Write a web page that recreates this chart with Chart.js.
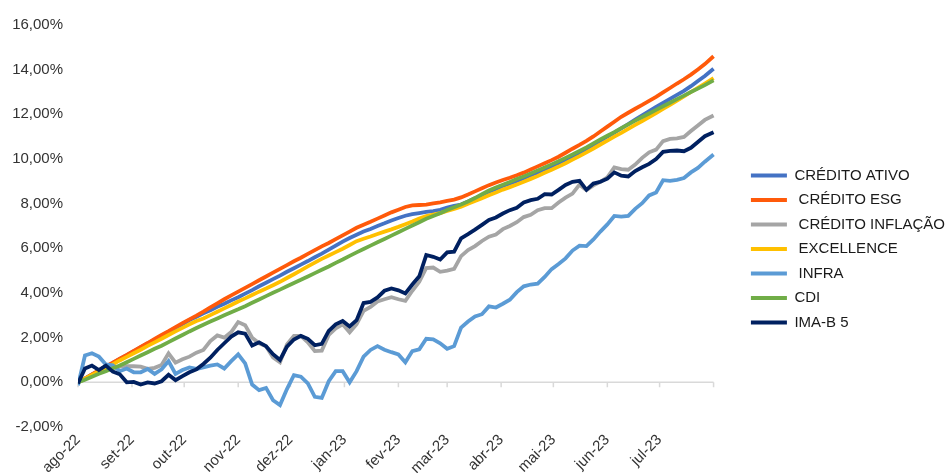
<!DOCTYPE html>
<html>
<head>
<meta charset="utf-8">
<script src="https://cdn.jsdelivr.net/npm/chart.js@4.4.1/dist/chart.umd.min.js"></script>
<style>
html,body{margin:0;padding:0;background:#ffffff;overflow:hidden;}
#wrap{width:951px;height:473px;}
</style>
</head>
<body>
<div id="wrap"><canvas id="c" width="951" height="473"></canvas></div>
<script>
// ---- DATA (cumulative return, %) ----
// x = calendar days since 01-Aug-2022
const days = [0,4,8,12,16,20,24,28,32,36,40,44,48,52,56,60,64,68,72,76,80,84,88,92,96,100,104,108,112,116,120,124,128,132,136,140,144,148,152,156,160,164,168,172,176,180,184,188,192,196,200,204,208,212,216,220,224,228,232,236,240,244,248,252,256,260,264,268,272,276,280,284,288,292,296,300,304,308,312,316,320,324,328,332,336,340,344,348,352,356,360,365];

const monthDays = [0,31,61,92,122,153,184,212,243,273,304,334];
const monthLabels = ['ago-22','set-22','out-22','nov-22','dez-22','jan-23','fev-23','mar-23','abr-23','mai-23','jun-23','jul-23'];
const endDay = 365;
const yTickValues = [-2,0,2,4,6,8,10,12,14,16];

const seriesNames = ['CRÉDITO ATIVO',' CRÉDITO ESG',' CRÉDITO INFLAÇÃO',' EXCELLENCE',' INFRA','CDI','IMA-B 5'];

const creditoAtivo = [0,0.17,0.35,0.52,0.70,0.87,1.05,1.22,1.39,1.57,
1.74,1.91,2.09,2.26,2.44,2.61,2.79,2.94,3.09,3.23,
3.38,3.52,3.67,3.81,3.97,4.13,4.30,4.46,4.62,4.78,
4.95,5.11,5.27,5.43,5.60,5.76,5.94,6.12,6.30,6.46,
6.61,6.75,6.87,7.00,7.12,7.25,7.36,7.46,7.53,7.58,
7.63,7.67,7.72,7.82,7.90,7.96,8.10,8.24,8.39,8.54,
8.66,8.79,8.90,9.02,9.14,9.27,9.40,9.54,9.68,9.82,
9.97,10.12,10.28,10.45,10.63,10.82,11.00,11.18,11.37,11.56,
11.76,11.95,12.14,12.33,12.51,12.69,12.87,13.05,13.26,13.49,
13.72,14.04];

const creditoESG = [0,0.18,0.35,0.53,0.71,0.88,1.06,1.23,1.41,1.59,
1.76,1.94,2.12,2.29,2.47,2.65,2.82,2.99,3.17,3.36,
3.54,3.72,3.89,4.06,4.23,4.40,4.57,4.74,4.91,5.08,
5.25,5.42,5.58,5.75,5.92,6.09,6.24,6.41,6.58,6.75,
6.92,7.06,7.19,7.33,7.47,7.61,7.73,7.85,7.92,7.94,
7.96,8.01,8.06,8.12,8.18,8.28,8.41,8.55,8.69,8.83,
8.95,9.06,9.16,9.27,9.39,9.53,9.67,9.81,9.95,10.10,
10.28,10.46,10.63,10.81,11.01,11.23,11.45,11.67,11.89,12.07,
12.25,12.42,12.60,12.78,12.98,13.18,13.38,13.57,13.78,14.01,
14.25,14.60];

const creditoInflacao = [0,0.15,0.30,0.42,0.55,0.65,0.70,0.72,0.72,0.70,
0.60,0.65,0.78,1.30,0.88,1.03,1.15,1.33,1.45,1.85,
2.10,2.00,2.25,2.70,2.56,2.00,1.75,1.62,1.12,0.90,
1.70,2.08,2.08,1.79,1.40,1.42,2.12,2.42,2.60,2.24,
2.60,3.20,3.38,3.62,3.72,3.81,3.72,3.65,4.10,4.50,
5.12,5.14,4.95,5.00,5.08,5.65,5.92,6.10,6.33,6.52,
6.62,6.86,7.00,7.17,7.40,7.50,7.71,7.80,7.80,8.05,
8.27,8.45,8.85,8.61,8.82,8.98,9.18,9.62,9.55,9.52,
9.75,10.05,10.30,10.42,10.80,10.90,10.92,10.99,11.25,11.50,
11.75,11.95];

const excellence = [0,0.16,0.33,0.49,0.65,0.81,0.98,1.14,1.30,1.46,
1.63,1.79,1.95,2.12,2.28,2.44,2.60,2.75,2.86,3.01,
3.16,3.31,3.46,3.62,3.76,3.91,4.06,4.20,4.35,4.50,
4.67,4.84,5.01,5.19,5.36,5.53,5.68,5.83,5.98,6.15,
6.32,6.43,6.53,6.64,6.75,6.85,6.96,7.08,7.20,7.33,
7.44,7.51,7.58,7.67,7.76,7.86,8.00,8.12,8.24,8.38,
8.50,8.63,8.74,8.86,8.98,9.11,9.24,9.38,9.52,9.66,
9.81,9.97,10.13,10.30,10.47,10.65,10.82,11.00,11.17,11.35,
11.53,11.70,11.88,12.06,12.24,12.42,12.61,12.80,13.00,13.19,
13.38,13.62];

const infra = [-0.13,1.20,1.30,1.15,0.80,0.76,0.50,0.62,0.45,0.45,
0.60,0.38,0.58,0.95,0.38,0.55,0.67,0.60,0.67,0.75,
0.80,0.62,0.95,1.25,0.85,-0.10,-0.35,-0.25,-0.80,-1.02,
-0.30,0.32,0.25,-0.05,-0.65,-0.70,0.05,0.50,0.50,0.00,
0.50,1.15,1.45,1.62,1.46,1.35,1.25,0.90,1.40,1.48,
1.95,1.92,1.75,1.50,1.62,2.45,2.72,2.95,3.05,3.40,
3.35,3.52,3.70,4.04,4.30,4.38,4.42,4.72,5.07,5.30,
5.55,5.90,6.12,6.10,6.40,6.75,7.07,7.45,7.42,7.45,
7.77,8.02,8.37,8.50,9.05,9.02,9.07,9.15,9.40,9.60,
9.88,10.20];

const cdi = [0,0.12,0.25,0.38,0.50,0.63,0.75,0.90,1.05,1.20,
1.35,1.50,1.64,1.80,1.96,2.12,2.28,2.43,2.58,2.72,
2.86,3.00,3.14,3.27,3.41,3.56,3.71,3.86,4.01,4.15,
4.30,4.45,4.59,4.74,4.89,5.04,5.19,5.35,5.50,5.66,
5.82,5.97,6.12,6.27,6.42,6.57,6.72,6.87,7.02,7.17,
7.32,7.45,7.57,7.72,7.84,7.96,8.10,8.25,8.42,8.59,
8.72,8.85,8.97,9.10,9.22,9.35,9.49,9.62,9.76,9.90,
10.05,10.20,10.36,10.52,10.70,10.88,11.04,11.20,11.38,11.55,
11.72,11.88,12.04,12.20,12.36,12.52,12.68,12.84,13.00,13.15,
13.31,13.52];

const imab5 = [-0.05,0.62,0.75,0.55,0.75,0.48,0.36,0.00,0.02,-0.10,
0.00,-0.05,0.05,0.34,0.10,0.28,0.45,0.58,0.82,1.10,
1.45,1.75,2.05,2.24,2.18,1.65,1.79,1.62,1.26,1.00,
1.60,1.92,2.08,1.95,1.66,1.72,2.30,2.60,2.75,2.50,
2.78,3.55,3.60,3.80,4.10,4.20,4.12,3.98,4.38,4.75,
5.70,5.62,5.50,5.82,5.85,6.45,6.64,6.84,7.05,7.27,
7.38,7.56,7.71,7.82,8.05,8.16,8.22,8.43,8.41,8.62,
8.84,8.98,9.02,8.62,8.90,8.98,9.12,9.40,9.25,9.22,
9.46,9.63,9.78,10.00,10.32,10.36,10.38,10.35,10.50,10.76,
11.02,11.20];

// ---- STYLE ----
const seriesValues = [creditoAtivo, creditoESG, creditoInflacao, excellence, infra, cdi, imab5];
const seriesColors = ['#4472C4','#FF5A0A','#A5A5A5','#FFC000','#5B9BD5','#70AD47','#002060'];
const FONT = "'Liberation Sans', Arial, sans-serif";

Chart.defaults.font.family = FONT;
Chart.defaults.font.size = 15;
Chart.defaults.color = '#333333';

const datasets = seriesValues.map((vals, i) => ({
  label: seriesNames[i],
  data: days.map((d, j) => ({x: d, y: vals[j]})),
  borderColor: seriesColors[i],
  backgroundColor: seriesColors[i],
  borderWidth: 3.8,
  pointRadius: 0,
  pointHoverRadius: 0,
  tension: 0,
  fill: false,
  order: seriesValues.length - i
}));

const axisMarks = {
  id: 'axisMarks',
  beforeDatasetsDraw(chart) {
    const ctx = chart.ctx, xs = chart.scales.x, ys = chart.scales.y;
    const y0 = ys.getPixelForValue(0);
    ctx.save();
    ctx.strokeStyle = '#d9d9d9';
    ctx.lineWidth = 1.5;
    ctx.beginPath();
    ctx.moveTo(xs.getPixelForValue(days[0]), y0);
    ctx.lineTo(xs.getPixelForValue(endDay), y0);
    monthDays.concat([endDay]).forEach(d => {
      const px = xs.getPixelForValue(d);
      ctx.moveTo(px, y0);
      ctx.lineTo(px, y0 + 5);
    });
    ctx.stroke();
    ctx.restore();
  }
};

new Chart(document.getElementById('c'), {
  type: 'line',
  data: { datasets },
  options: {
    responsive: false,
    animation: false,
    devicePixelRatio: 1,
    layout: { padding: { left: 12, top: 25, right: -4, bottom: 0 } },
    plugins: {
      tooltip: { enabled: false },
      legend: {
        position: 'right',
        labels: {
          usePointStyle: true,
          pointStyle: 'line',
          pointStyleWidth: 36,
          boxHeight: 15,
          padding: 9.5,
          color: '#1a1a1a',
          font: { size: 15, family: FONT },
          sort: (a, b) => a.datasetIndex - b.datasetIndex
        }
      }
    },
    scales: {
      x: {
        type: 'linear',
        min: 0,
        max: 381,
        afterBuildTicks: s => { s.ticks = monthDays.map(v => ({ value: v })); },
        afterFit: s => { s.height = 46; },
        grid: { display: false, drawTicks: false },
        border: { display: false },
        ticks: {
          autoSkip: false,
          minRotation: 45,
          maxRotation: 45,
          padding: 4,
          color: '#333333',
          font: { size: 15 },
          callback: (v) => { const i = monthDays.indexOf(v); return i >= 0 ? monthLabels[i] : ''; }
        }
      },
      y: {
        min: -2,
        max: 16,
        afterBuildTicks: s => { s.ticks = yTickValues.map(v => ({ value: v })); },
        afterFit: s => { s.width = 66; },
        grid: { display: false, drawTicks: false },
        border: { display: false },
        ticks: {
          padding: 15,
          color: '#333333',
          font: { size: 15 },
          callback: v => v.toFixed(2).replace('.', ',') + '%'
        }
      }
    }
  },
  plugins: [axisMarks]
});
</script>
</body>
</html>
